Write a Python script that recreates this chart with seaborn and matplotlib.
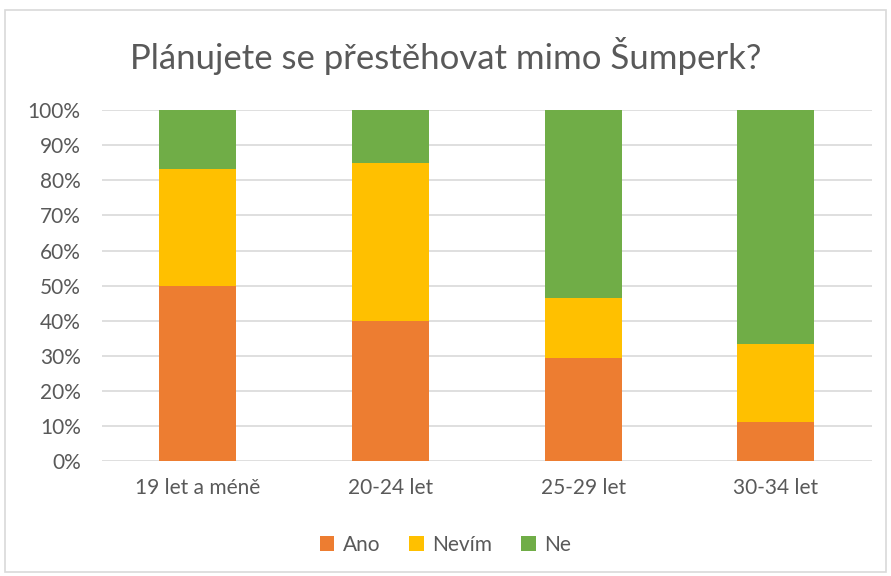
import numpy as np
import pandas as pd
import matplotlib
matplotlib.use('Agg')
import matplotlib.pyplot as plt
import seaborn as sns
from matplotlib.patches import Patch, Rectangle
from matplotlib.ticker import PercentFormatter

# Data (shares in %)
categories = ['19 let a méně', '20-24 let', '25-29 let', '30-34 let']
ano = [50.0, 40.0, 29.4, 11.1]
nevim = [33.3, 45.0, 17.2, 22.2]
ne = [16.7, 15.0, 53.4, 66.7]

series_names = ['Ano', 'Nevím', 'Ne']
colors = ['#ED7D31', '#FFC000', '#70AD47']

sns.set_theme(style='white')
plt.rcParams['font.family'] = ['Lato', 'DejaVu Sans']
text_col = '#595959'

df = pd.DataFrame({'kat': categories, 'Ano': ano, 'Nevím': nevim, 'Ne': ne})
df['c_ano'] = df['Ano']
df['c_nevim'] = df['Ano'] + df['Nevím']
df['c_ne'] = df['Ano'] + df['Nevím'] + df['Ne']

fig = plt.figure(figsize=(8.91, 5.76), dpi=100)
ax = fig.add_axes([0.114, 0.1997, 0.865, 0.609])

# stacked bars: draw cumulative totals from top to bottom
for col, c in zip(['c_ne', 'c_nevim', 'c_ano'], colors[::-1]):
    sns.barplot(data=df, x='kat', y=col, color=c, width=0.4, ax=ax,
                saturation=1, edgecolor='none', zorder=3)

ax.set_ylim(0, 100)
ax.set_yticks(np.arange(0, 101, 10))
ax.yaxis.set_major_formatter(PercentFormatter(decimals=0))
ax.grid(axis='y', color='#d9d9d9', linewidth=1.2, zorder=0)
ax.set_axisbelow(True)
for s in ax.spines.values():
    s.set_visible(False)
ax.set_xlabel('')
ax.set_ylabel('')
ax.tick_params(axis='y', length=0, pad=15, labelsize=15, labelcolor=text_col)
ax.tick_params(axis='x', length=0, pad=12, labelsize=15, labelcolor=text_col)

fig.text(0.5, 0.902, 'Plánujete se přestěhovat mimo Šumperk?', ha='center',
         va='center', fontsize=25, color=text_col)

handles = [Patch(facecolor=c, edgecolor='none') for c in colors]
fig.legend(handles, series_names, loc='center', bbox_to_anchor=(0.5, 0.054),
           ncol=3, frameon=False, fontsize=15, labelcolor=text_col,
           handlelength=0.7, handleheight=0.7, handletextpad=0.4, columnspacing=1.4)

# chart border
fig.patches.append(Rectangle((0.006, 0.007), 0.988, 0.975, transform=fig.transFigure,
                             fill=False, edgecolor='#d9d9d9', linewidth=1.2))

fig.savefig('out.png', dpi=100)
plt.close()
